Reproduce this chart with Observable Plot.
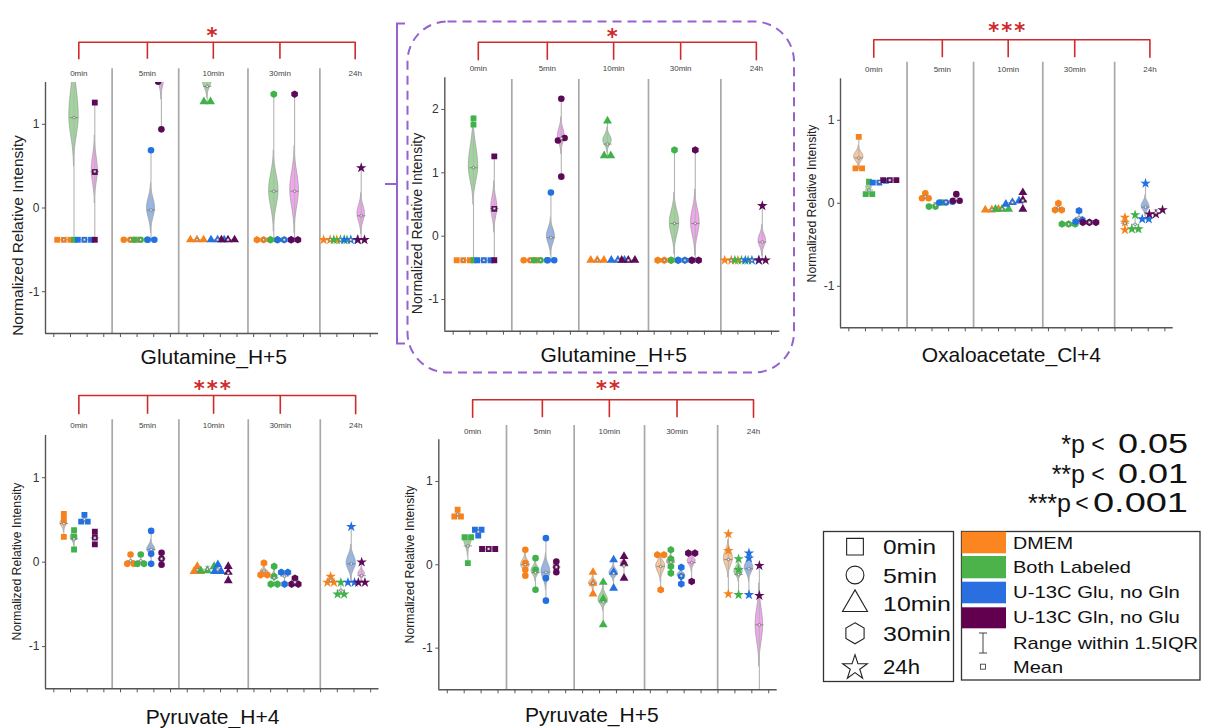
<!DOCTYPE html>
<html><head><meta charset="utf-8">
<script src="https://cdn.jsdelivr.net/npm/d3@7"></script>
<script src="https://cdn.jsdelivr.net/npm/@observablehq/plot@0.6"></script>
<style>
body{margin:0;background:#fff;}
#root{position:relative;width:1205px;height:728px;overflow:hidden;background:#fff;font-family:"Liberation Sans",Arial,sans-serif;}
</style></head><body><div id="root"></div>
<script>
// ---------- categories ----------
const times = ["0min","5min","10min","30min","24h"];
const conditions = ["DMEM","Both Labeled","U-13C Glu, no Gln","U-13C Gln, no Glu"];
const markerColors = ["#f7821b","#3fb34a","#2370e3","#5c0a57"];
const violinColors = ["#f8c79d","#a0d69c","#93b6ea","#f2a5ee"];
const timeSymbols = ["square","circle","triangle","hexagon","star"];
const extraLegend = ["Range within 1.5IQR","Mean"];
const pLabels = ["*p","**p","***p"];
const pThresholds = ["0.05","0.01","0.001"];

// ---------- values[time][condition] = replicates ----------
const glutamineH5 = [
  [[-0.38,-0.38,-0.38],[-0.38,1.76,1.86],[-0.38,-0.38,-0.38],[-0.38,0.43,1.26]],
  [[-0.38,-0.38,-0.38],[-0.38,-0.38,-0.38],[-0.38,-0.38,0.69],[0.94,1.51,1.55,2.17]],
  [[-0.38,-0.38,-0.38],[1.27,1.27,1.82],[-0.38,-0.38,-0.38],[-0.38,-0.38,-0.38]],
  [[-0.38,-0.38,-0.38],[-0.38,-0.38,1.36],[-0.38,-0.38,-0.38],[-0.38,-0.38,1.36]],
  [[-0.38,-0.38,-0.38],[-0.38,-0.38,-0.38],[-0.38,-0.38,-0.38],[-0.38,-0.38,0.48]]
];
const oxaloacetateCl4 = [
  [[0.42,0.42,0.80],[0.11,0.11,0.26],[0.25,0.25,0.27],[0.28,0.28,0.28]],
  [[0.06,0.06,0.12],[-0.04,-0.04,0.01],[0.01,0.01,0.02],[0.03,0.03,0.11]],
  [[-0.08,-0.08,-0.07],[-0.07,-0.07,-0.07],[-0.01,0.01,0.03],[-0.07,0.04,0.13]],
  [[-0.08,-0.08,0.0],[-0.25,-0.25,-0.25],[-0.22,-0.20,-0.09],[-0.23,-0.23,-0.23]],
  [[-0.32,-0.23,-0.17],[-0.31,-0.31,-0.14],[-0.19,-0.19,0.24],[-0.13,-0.13,-0.08]]
];
const pyruvateH4 = [
  [[0.30,0.50,0.57],[0.15,0.30,0.38],[0.48,0.48,0.56],[0.21,0.29,0.36]],
  [[-0.02,-0.02,0.09],[-0.02,-0.02,0.09],[-0.02,0.10,0.37],[-0.03,0.04,0.11]],
  [[-0.11,-0.11,-0.05],[-0.10,-0.10,-0.05],[-0.11,-0.11,-0.03],[-0.22,-0.12,-0.05]],
  [[-0.15,-0.15,-0.01],[-0.26,-0.26,-0.17,-0.05],[-0.26,-0.12,-0.12],[-0.26,-0.26,-0.19]],
  [[-0.24,-0.24,-0.17],[-0.38,-0.38,-0.24],[-0.24,-0.24,0.42],[-0.24,-0.24,0.0]]
];
const pyruvateH5 = [
  [[0.58,0.58,0.66],[0.02,0.33,0.33],[0.35,0.42,0.42],[0.19,0.19,0.19]],
  [[-0.13,-0.06,0.02,0.18],[-0.30,-0.06,0.08],[-0.43,-0.16,0.32],[-0.09,-0.03,0.04]],
  [[-0.35,-0.22,-0.09],[-0.72,-0.41,-0.21],[-0.28,-0.09,0.06],[-0.16,0.02,0.10]],
  [[-0.30,0.12,0.12],[-0.10,-0.02,0.07,0.18],[-0.23,-0.14,-0.03],[-0.20,0.14,0.14]],
  [[-0.35,0.17,0.37],[-0.36,-0.06,0.07],[-0.36,0.08,0.14],[-1.78,-0.37,-0.01]]
];

// ---------- violins: [time, condition, low, mode, high, relative density] ----------
const glutamineViolins = [
  [0,1,0.50,1.10,1.90,1.0],[0,3,0.06,0.45,0.87,0.65],[1,2,-0.30,0.0,0.30,0.85],
  [1,3,1.30,1.58,1.88,0.72],[2,1,1.32,1.51,1.72,0.9],[3,1,-0.28,0.21,0.69,1.0],
  [3,3,-0.30,0.22,0.74,0.92],[4,3,-0.31,-0.07,0.18,0.8]
];
const oxaloacetateViolins = [
  [0,0,0.43,0.56,0.70,1.0],[0,1,0.12,0.19,0.27,0.6],[4,2,-0.15,-0.04,0.10,0.85]
];
const pyruvateH4Violins = [
  [0,0,0.36,0.46,0.56,0.7],[0,1,0.20,0.30,0.40,0.75],[1,2,0.05,0.15,0.27,0.85],
  [3,0,-0.14,-0.10,-0.05,0.6],[3,1,-0.22,-0.17,-0.10,0.6],[4,2,-0.21,-0.01,0.21,1.0],
  [4,3,-0.22,-0.14,-0.05,0.7]
];
const pyruvateH5Violins = [
  [0,1,0.11,0.30,0.36,0.8],[1,0,-0.12,0.0,0.14,0.9],[1,1,-0.20,-0.07,0.05,0.85],
  [1,2,-0.30,-0.08,0.14,0.95],[1,3,-0.06,0.0,0.06,0.6],[2,0,-0.30,-0.22,-0.13,0.85],
  [2,1,-0.55,-0.42,-0.25,1.0],[2,2,-0.20,-0.10,0.02,0.9],[2,3,-0.04,0.02,0.08,0.7],
  [3,0,-0.20,-0.01,0.13,0.95],[3,1,-0.05,0.04,0.13,0.85],[3,2,-0.20,-0.12,-0.05,0.8],
  [3,3,-0.08,0.05,0.14,0.85],[4,0,-0.15,0.08,0.30,0.95],[4,1,-0.20,-0.08,0.05,0.9],
  [4,2,-0.20,-0.03,0.12,0.9],[4,3,-1.22,-0.72,-0.22,0.8]
];

// ---------- layout (page pixels) ----------
const dividerPos = [1.0, 2.0, 3.04, 4.12];
const labelPos = [0.5, 1.53, 2.52, 3.52, 4.65];
const xMinorTicks = d3.range(0.125, 5, 0.25);
const condOffsetPx = [-15, -4.8, 5.6, 16];

const panels = [
  {title:"Glutamine_H+5", values:glutamineH5, violins:glutamineViolins, stars:"*",
   box:[0,0,395,372], frame:[45,378,82,333], yDomain:[-1.5,1.5], yTicks:[-1,0,1],
   bracketY:41.7, bracketDrop:58.3, labelY:73.3, dividerTop:68.3, starY:30, titleX:213.3, titleY:363, ylabel:[18,235,15.5]},
  {title:"Glutamine_H+5", values:glutamineH5, violins:glutamineViolins, stars:"*",
   box:[398,0,400,372], frame:[444.3,779.3,77.3,330.7], yDomain:[-1.5,2.5], yTicks:[-1,0,1,2],
   bracketY:41.7, bracketDrop:59.3, labelY:68.3, dividerTop:79, starY:31, titleX:613.3, titleY:361.7, ylabel:[416.7,223,14]},
  {title:"Oxaloacetate_Cl+4", values:oxaloacetateCl4, violins:oxaloacetateViolins, stars:"***",
   box:[800,0,405,372], frame:[840,1172.7,78.3,327.3], yDomain:[-1.5,1.5], yTicks:[-1,0,1],
   bracketY:39.3, bracketDrop:56.7, labelY:69.3, dividerTop:61.7, starY:25, titleX:1010.8, titleY:361.7, ylabel:[812,203,12.2]},
  {title:"Pyruvate_H+4", values:pyruvateH4, violins:pyruvateH4Violins, stars:"***",
   box:[0,365,400,363], frame:[45,378.5,435,688.3], yDomain:[-1.5,1.5], yTicks:[-1,0,1],
   bracketY:395, bracketDrop:413.3, labelY:425, dividerTop:419.3, starY:383, titleX:212, titleY:723.3, ylabel:[16.7,561,12.2]},
  {title:"Pyruvate_H+5", values:pyruvateH5, violins:pyruvateH5Violins, stars:"**",
   box:[400,365,400,363], frame:[438.3,776.7,439.3,689.3], yDomain:[-1.5,1.5], yTicks:[-1,0,1],
   bracketY:399.3, bracketDrop:416.7, labelY:431, dividerTop:425, starY:383, titleX:591.3, titleY:721.7, ylabel:[410,564,12.2]}
];

const FONT = '"Liberation Sans", Arial, sans-serif';
const RED = "#d02a2a";
const root = document.getElementById("root");

function profile(u) { const a = 3.2; return (Math.exp(-a*u*u) - Math.exp(-a)) / (1 - Math.exp(-a)); }

panels.forEach(p => {
  const [bx, by, bw, bh] = p.box;
  const [fL, fR, fT, fB] = p.frame;
  const [y0, y1] = p.yDomain;
  const kx = (fR - fL) / 5;
  const ky = (fB - fT) / (y1 - y0);
  const xAt = px => (px - fL) / kx;
  const yAt = py => y1 - (py - fT) / ky;
  const center = (t, c) => t + 0.5 + condOffsetPx[c] / kx;

  const points = [], stats = [];
  p.values.forEach((byCond, t) => byCond.forEach((vals, c) => {
    const cx = center(t, c);
    const sorted = [...vals].sort((a, b) => a - b);
    const clusters = [];
    sorted.forEach(v => {
      const last = clusters[clusters.length - 1];
      if (last && (v - last[last.length - 1]) * ky < 4.5) last.push(v); else clusters.push([v]);
    });
    clusters.forEach(cl => cl.forEach((v, k) => points.push({t, c, x: cx + (k - (cl.length - 1) / 2) * 6.6 / kx, y: v})));
    stats.push({t, c, x: cx, min: d3.min(vals), max: d3.max(vals), mean: d3.mean(vals)});
  }));
  const caps = stats.filter(d => d.max > d.min).flatMap(d => [{x: d.x, v: d.min}, {x: d.x, v: d.max}]);

  const violinPts = [];
  p.violins.forEach(([t, c, lo, mode, hi, dens], i) => {
    const cx = center(t, c);
    const hw = dens * 4.7 / kx;
    for (let k = 0; k <= 40; k++) {
      const s = -1 + k / 20;
      const y = s < 0 ? mode + s * (mode - lo) : mode + s * (hi - mode);
      const w = hw * profile(Math.abs(s));
      violinPts.push({id: i, y, x1: cx - w, x2: cx + w, fill: violinColors[c]});
    }
  });

  const yB = yAt(p.bracketY), yD = yAt(p.bracketDrop);
  const bracketEnds = [{x: labelPos[0], y: yD}, {x: labelPos[0], y: yB}, {x: labelPos[4], y: yB}, {x: labelPos[4], y: yD}];
  const starChars = p.stars.split("");

  const chart = Plot.plot({
    width: bw, height: bh,
    marginLeft: fL - bx, marginRight: bx + bw - fR,
    marginTop: fT - by, marginBottom: by + bh - fB,
    x: {domain: [0, 5], axis: null},
    y: {domain: p.yDomain, axis: null},
    color: {type: "identity"},
    style: {background: "none", fontFamily: FONT, overflow: "visible"},
    marks: [
      Plot.ruleX(dividerPos, {y1: yAt(p.dividerTop), y2: y0, stroke: "#a8a8a8", strokeWidth: 1.7}),
      Plot.areaX(violinPts, {y: "y", x1: "x1", x2: "x2", z: "id", fill: "fill", stroke: "#8f8f8f", strokeWidth: 0.6, curve: "linear", clip: true}),
      Plot.ruleX(stats.filter(d => d.max > d.min), {x: "x", y1: "min", y2: "max", stroke: "#b4b4b4", strokeWidth: 1.1, clip: true}),
      Plot.link(caps, {x1: d => d.x - 2.2 / kx, x2: d => d.x + 2.2 / kx, y1: "v", y2: "v", stroke: "#9a9a9a", strokeWidth: 0.9, clip: true}),
      Plot.link(stats, {x1: d => d.x - 4.2 / kx, x2: d => d.x + 4.2 / kx, y1: "mean", y2: "mean", stroke: "#777", strokeWidth: 0.7, clip: true}),
      ...timeSymbols.map((s, t) => Plot.dot(points.filter(d => d.t === t), {x: "x", y: "y", symbol: s, r: 3.3, fill: d => markerColors[d.c], clip: true})),
      Plot.dot(stats, {x: "x", y: "mean", symbol: "square", r: 1.25, fill: "white", stroke: "#666", strokeWidth: 0.6, clip: true}),
      Plot.ruleX([0], {stroke: "#555", strokeWidth: 1.4}),
      Plot.ruleY([y0], {stroke: "#555", strokeWidth: 1.4}),
      Plot.axisY({ticks: p.yTicks, tickFormat: d => String(d), tickSize: 3, tickPadding: 3, fontSize: 12, stroke: "#555", fill: "#333", label: null}),
      Plot.axisX({ticks: xMinorTicks, tickSize: 4, tickFormat: () => "", stroke: "#555", label: null}),
      Plot.text(times, {x: (d, i) => labelPos[i], y: yAt(p.labelY), fontSize: 8, fill: "#444"}),
      Plot.line(bracketEnds, {x: "x", y: "y", stroke: RED, strokeWidth: 1.6}),
      Plot.link(labelPos.slice(1, 4), {x1: d => d, x2: d => d, y1: yB, y2: yD, stroke: RED, strokeWidth: 1.6}),
      Plot.text(starChars, {x: (d, i) => 2.5 + (i - (starChars.length - 1) / 2) * 13 / kx, y: yAt(p.starY + 12), lineAnchor: "bottom",
        fontSize: 21, fontWeight: "bold", fontFamily: "DejaVu Sans", fill: RED}),
      Plot.text([p.title], {x: xAt(p.titleX), y: yAt(p.titleY), lineAnchor: "bottom", fontSize: 21, fill: "#111"}),
      Plot.text(["Normalized Relative Intensity"], {x: xAt(p.ylabel[0]), y: yAt(p.ylabel[1]), rotate: -90, fontSize: p.ylabel[2], fill: "#222"})
    ]
  });
  chart.style.position = "absolute";
  chart.style.left = bx + "px";
  chart.style.top = by + "px";
  root.appendChild(chart);
});

// ---------- overlay: highlight box, p-values, legends ----------
const ov = d3.select(root).append("svg").attr("width", 1205).attr("height", 728)
  .style("position", "absolute").style("left", "0px").style("top", "0px").style("font-family", FONT);
const PURPLE = "#9562cf";
ov.append("rect").attr("x", 407.5).attr("y", 21.5).attr("width", 386.5).attr("height", 351).attr("rx", 40)
  .attr("fill", "none").attr("stroke", PURPLE).attr("stroke-width", 2).attr("stroke-dasharray", "9 6");
ov.append("path").attr("d", "M405,23.5 H397 V343.5 H405 M397,184 H385").attr("fill", "none").attr("stroke", PURPLE).attr("stroke-width", 2);

// p-values
const pGeom = [{y: 453, sEnd: 1085, lt: 1098, vStart: 1118, vLen: 70}, {y: 483, sEnd: 1085, lt: 1098, vStart: 1118, vLen: 70}, {y: 512, sEnd: 1071, lt: 1082, vStart: 1093, vLen: 95}];
pLabels.forEach((lab, i) => {
  const g = pGeom[i];
  ov.append("text").attr("x", g.sEnd).attr("y", g.y).attr("text-anchor", "end").attr("font-size", 25).attr("fill", "#111").text(lab);
  ov.append("text").attr("x", g.lt).attr("y", g.y - 1).attr("text-anchor", "middle").attr("font-size", 23).attr("fill", "#111").text("<");
  ov.append("text").attr("x", g.vStart).attr("y", g.y).attr("font-size", 27).attr("fill", "#111")
    .attr("textLength", g.vLen).attr("lengthAdjust", "spacingAndGlyphs").text(pThresholds[i]);
});

// legend 1: time symbols
ov.append("rect").attr("x", 823.5).attr("y", 531.5).attr("width", 130).attr("height", 150).attr("fill", "none").attr("stroke", "#333").attr("stroke-width", 1.3);
const rowY1 = [546.7, 575, 603.3, 633.3, 666.7];
const labLen1 = [53, 54, 68, 68, 37];
const hexPath = r => d3.range(6).map(k => { const a = (-90 + 60 * k) * Math.PI / 180; return [r * Math.cos(a), r * Math.sin(a)]; });
times.forEach((tm, i) => {
  const g = ov.append("g").attr("transform", `translate(855,${rowY1[i]})`);
  let el;
  if (timeSymbols[i] === "square") el = g.append("path").attr("d", d3.symbol(d3.symbolSquare, 280)());
  else if (timeSymbols[i] === "circle") el = g.append("path").attr("d", d3.symbol(d3.symbolCircle, 250)());
  else if (timeSymbols[i] === "triangle") el = g.append("path").attr("d", d3.symbol(d3.symbolTriangle, 270)()).attr("transform", "translate(0,1)");
  else if (timeSymbols[i] === "hexagon") el = g.append("polygon").attr("points", hexPath(10.5).map(d => d.join(",")).join(" "));
  else el = g.append("path").attr("d", d3.symbol(d3.symbolStar, 190)()).attr("transform", "translate(0,1)");
  el.attr("fill", "none").attr("stroke", "#222").attr("stroke-width", 1.1);
  ov.append("text").attr("x", 883).attr("y", rowY1[i] + 7.5).attr("font-size", 21).attr("fill", "#111")
    .attr("textLength", labLen1[i]).attr("lengthAdjust", "spacingAndGlyphs").text(tm);
});

// legend 2: conditions
ov.append("rect").attr("x", 961.5).attr("y", 531.5).attr("width", 238.5).attr("height", 148.5).attr("fill", "none").attr("stroke", "#333").attr("stroke-width", 1.3);
const swY = [[531.7, 553.3], [556, 578.3], [581.7, 603.3], [607.3, 628.3]];
const rowY2 = [543, 566.7, 591.7, 616.7, 642.7, 666.7];
const labLen2 = [60, 118, 166.7, 166.7, 185, 50];
const swatchColors = ["#fb851f","#4cb34a","#2a6fe0","#62004f"];
conditions.forEach((c, i) => {
  ov.append("rect").attr("x", 961.7).attr("y", swY[i][0]).attr("width", 44.3).attr("height", swY[i][1] - swY[i][0]).attr("fill", swatchColors[i]);
});
[...conditions, ...extraLegend].forEach((lab, i) => {
  ov.append("text").attr("x", 1013).attr("y", rowY2[i] + 6).attr("font-size", 17).attr("fill", "#111")
    .attr("textLength", labLen2[i]).attr("lengthAdjust", "spacingAndGlyphs").text(lab);
});
ov.append("path").attr("d", "M979,633 H987 M983,633 V653 M979,653 H987").attr("stroke", "#444").attr("stroke-width", 1).attr("fill", "none");
ov.append("rect").attr("x", 980.5).attr("y", 664.2).attr("width", 5).attr("height", 5).attr("fill", "none").attr("stroke", "#444").attr("stroke-width", 0.9);
</script>
</body></html>
